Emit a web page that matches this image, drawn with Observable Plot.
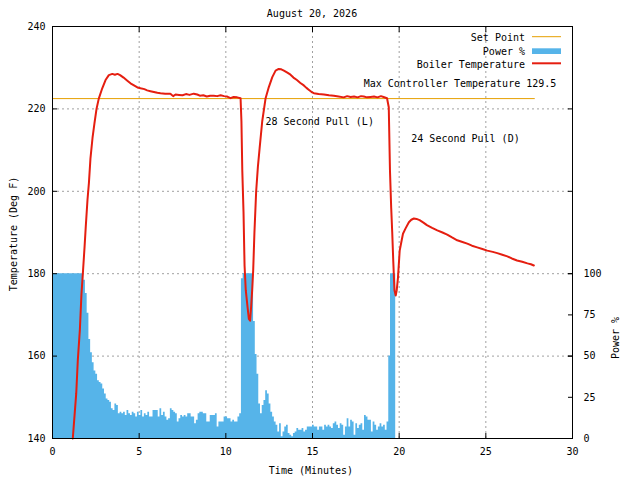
<!DOCTYPE html>
<html><head><meta charset="utf-8">
<script src="https://cdn.jsdelivr.net/npm/d3@7"></script>
<script src="https://cdn.jsdelivr.net/npm/@observablehq/plot@0.6"></script>
<style>
body{margin:0;background:#fff;font-family:"DejaVu Sans Mono",monospace;font-size:10px;color:#000;}
#title{height:20px;position:relative;width:640px;}
#title span{position:absolute;left:52px;width:520px;top:8px;text-align:center;line-height:12px;}
</style></head><body>
<div id="title"><span>August 20, 2026</span></div>
<div id="chart"></div>
<script>
// Boiler temperature (minutes, deg F)
const tempTime = [1.17,1.27,1.37,1.46,1.58,1.67,1.75,1.85,1.92,2.02,2.10,2.19,2.31,2.42,2.54,2.67,2.87,3.06,3.25,3.45,3.6,3.75,3.9,4.1,4.3,4.5,4.7,4.9,5.08,5.3,5.46,5.65,5.85,6.05,6.23,6.5,6.8,6.96,7.1,7.3,7.5,7.7,7.9,8.15,8.35,8.5,8.7,8.9,9.1,9.3,9.5,9.7,9.9,10.08,10.27,10.45,10.65,10.85,10.9,10.95,11.02,11.08,11.15,11.25,11.33,11.4,11.46,11.52,11.58,11.65,11.75,11.85,11.95,12.1,12.29,12.48,12.68,12.87,13.05,13.2,13.35,13.55,13.73,13.9,14.1,14.3,14.5,14.65,14.8,14.95,15.08,15.35,15.66,15.95,16.23,16.5,16.8,17.0,17.2,17.4,17.6,17.8,17.96,18.15,18.35,18.55,18.75,18.95,19.1,19.3,19.4,19.47,19.54,19.6,19.66,19.73,19.8,19.86,19.93,20.03,20.14,20.22,20.37,20.56,20.7,20.85,21.0,21.18,21.4,21.6,21.9,22.2,22.5,22.77,23.05,23.35,23.65,23.93,24.2,24.5,24.8,25.08,25.4,25.66,25.95,26.24,26.5,26.8,27.1,27.4,27.6,27.77];
const tempValue = [140,145.5,151,159,166.5,175,180,186.5,191.5,198,202,208,213,216.5,220,222.5,225,227,228.2,228.5,228.3,228.5,228.2,227.6,226.9,226.2,225.7,225.2,225.0,224.8,224.5,224.3,224.1,223.9,223.8,223.7,223.7,223.1,223.5,223.4,223.3,223.6,223.4,223.7,223.5,223.2,223.3,223.0,223.2,223.2,223.1,223.3,223.1,223.0,222.6,222.9,222.8,222.6,217,205,195,182,176,172,169,168.6,172,176,181,190,200,206,210.5,217,222.5,225.3,227.7,229.3,229.7,229.6,229.3,228.8,228.3,227.6,227.0,226.3,225.7,225.1,224.6,224.1,223.8,223.6,223.5,223.3,223.2,223.0,222.8,223.1,222.9,223.0,222.8,223.1,223.0,222.8,222.9,223.0,222.8,223.1,222.9,222.6,220.4,205,196,190,183,176,174.7,176,179,185.6,188,189.7,191,192.5,193.1,193.4,193.3,193.0,192.4,191.8,191.1,190.5,190.0,189.5,188.8,188.1,187.7,187.3,186.8,186.4,186.0,185.6,185.3,185.0,184.6,184.2,183.7,183.2,182.9,182.5,182.3,182.0];

// Heater power (minutes, %)
const powerTime = [0,0.1,0.2,0.3,0.4,0.5,0.6,0.7,0.8,0.9,
1,1.1,1.2,1.3,1.4,1.5,1.6,1.7,1.8,1.9,
2,2.1,2.2,2.3,2.4,2.5,2.6,2.7,2.8,2.9,
3,3.1,3.2,3.3,3.4,3.5,3.6,3.7,3.8,3.9,
4,4.1,4.2,4.3,4.4,4.5,4.6,4.7,4.8,4.9,
5,5.1,5.2,5.3,5.4,5.5,5.6,5.7,5.8,5.9,
6,6.1,6.2,6.3,6.4,6.5,6.6,6.7,6.8,6.9,
7,7.1,7.2,7.3,7.4,7.5,7.6,7.7,7.8,7.9,
8,8.1,8.2,8.3,8.4,8.5,8.6,8.7,8.8,8.9,
9,9.1,9.2,9.3,9.4,9.5,9.6,9.7,9.8,9.9,
10,10.1,10.2,10.3,10.4,10.5,10.6,10.7,10.8,10.9,
11,11.1,11.2,11.3,11.4,11.5,11.6,11.7,11.8,11.9,
12,12.1,12.2,12.3,12.4,12.5,12.6,12.7,12.8,12.9,
13,13.1,13.2,13.3,13.4,13.5,13.6,13.7,13.8,13.9,
14,14.1,14.2,14.3,14.4,14.5,14.6,14.7,14.8,14.9,
15,15.1,15.2,15.3,15.4,15.5,15.6,15.7,15.8,15.9,
16,16.1,16.2,16.3,16.4,16.5,16.6,16.7,16.8,16.9,
17,17.1,17.2,17.3,17.4,17.5,17.6,17.7,17.8,17.9,
18,18.1,18.2,18.3,18.4,18.5,18.6,18.7,18.8,18.9,
19,19.1,19.2,19.3,19.4,19.5,19.6,19.7];
const powerPct = [100,100,100,100,100,100,100,100,100,100,
100,100,100,100,100,100,100,100,96,88,
76,60,52,46,41,39,35,34,33,30,
27,24,23,22,18,17,21,20,15,16,
15,16,14,17,15,14,16,15,13,16,
14,17,13,15,14,16,13,13,17,17,
17,13,18,14,16,13,11,12,18,17,
16,15,10,12,14,13,14,13,15,15,
13,13,9,11,15,16,16,15,15,10,
10,14,14,14,15,7,10,10,10,13,
13,12,12,10,11,10,10,13,15,97,
100,100,100,100,100,100,71,51,39,21,
15,20,23,29,27,21,16,13,10,8,
4,9,1,4,7,8,3,2,1,3,
4,6,5,5,6,4,5,7,7,7,
8,7,7,5,7,7,5,8,7,8,
7,6,9,10,8,6,9,8,2,7,
12,7,11,10,2,9,6,8,9,5,
14,13,11,11,4,10,8,5,7,9,
7,8,5,10,50,100,100,100];
const powerStep = 0.1;

// Set point
const setPointTime = [0, 27.8];
const setPointTemp = [222.5, 222.5];

// Annotations
const noteText = ["Max Controller Temperature 129.5", "28 Second Pull (L)", "24 Second Pull (D)"];
const noteTime = [17.95, 12.29, 20.7];
const noteTemp = [226.2, 216.8, 212.7];

// Axes
const xTicks = [0,5,10,15,20,25,30];
const xGrid = [5,10,15,20,25];
const yTicks = [140,160,180,200,220,240];
const yGrid = [160,180,200,220];
const powerTicks = [0,25,50,75,100];
const powerBaseTemp = 140;   // 0 % on the left scale
const powerFullTemp = 180;   // 100 % on the left scale

const pToT = p => powerBaseTemp + p * (powerFullTemp - powerBaseTemp) / 100;
const tToP = t => Math.round((t - powerBaseTemp) * 100 / (powerFullTemp - powerBaseTemp));

const tempRows = tempTime.map((t, i) => ({t, T: tempValue[i]}));
const powerRows = powerTime.map((t, i) => ({t, T: pToT(powerPct[i])}));
powerRows.push({t: powerTime[powerTime.length - 1] + powerStep, T: pToT(powerPct[powerPct.length - 1])});
const setRows = setPointTime.map((t, i) => ({t, T: setPointTemp[i]}));
const notes = noteText.map((label, i) => ({label, t: noteTime[i], T: noteTemp[i]}));

const RED = "#e51e10", BLUE = "#56b4e9", ORANGE = "#e69f00", GRID = "#a0a0a0";
const FONT = '"DejaVu Sans Mono", monospace';

const svg = Plot.plot({
  width: 640, height: 460,
  marginTop: 6, marginBottom: 42, marginLeft: 52, marginRight: 68,
  x: {domain: [0, 30]},
  y: {domain: [140, 240]},
  style: {fontFamily: FONT, fontSize: "10px", background: "white", color: "black", overflow: "visible"},
  marks: [
    Plot.gridX(xGrid, {stroke: GRID, strokeOpacity: 1, strokeDasharray: "2,3"}),
    Plot.gridY(yGrid, {stroke: GRID, strokeOpacity: 1, strokeDasharray: "2,3"}),
    Plot.areaY(powerRows, {x: "t", y1: powerBaseTemp, y2: "T", curve: "step-after", fill: BLUE}),
    Plot.line(setRows, {x: "t", y: "T", stroke: ORANGE, strokeWidth: 1}),
    Plot.line(tempRows, {x: "t", y: "T", stroke: RED, strokeWidth: 2}),
    Plot.text(notes, {x: "t", y: "T", text: "label", textAnchor: "start", fill: "black", fontSize: 10}),
    Plot.frame({stroke: "black"}),
    Plot.axisX({ticks: xTicks, tickSize: 0, tickPadding: 9, label: null}),
    Plot.axisX({anchor: "bottom", ticks: xTicks, text: null, tickSize: 5, dy: -5, label: null}),
    Plot.axisX({anchor: "top", ticks: xTicks, text: null, tickSize: 5, dy: 5, label: null}),
    Plot.axisY({ticks: yTicks, tickSize: 0, tickPadding: 7, label: null}),
    Plot.axisY({anchor: "left", ticks: yTicks, text: null, tickSize: 5, dx: 5, label: null}),
    Plot.axisY({anchor: "right", ticks: yTicks.concat(powerTicks.map(pToT)), text: null, tickSize: 5, dx: -5, label: null}),
    Plot.axisY({anchor: "right", ticks: powerTicks.map(pToT), tickFormat: tToP, tickSize: 0, tickPadding: 11, textAnchor: "start", label: null})
  ]
});
document.getElementById("chart").appendChild(svg);

const s = d3.select(svg);
const g = s.append("g").attr("font-family", FONT).attr("font-size", 10).attr("fill", "black");
// axis titles
g.append("text").attr("transform", "translate(13,214) rotate(-90)").attr("text-anchor", "middle").attr("dy", "0.35em").text("Temperature (Deg F)");
g.append("text").attr("transform", "translate(615,318) rotate(-90)").attr("text-anchor", "middle").attr("dy", "0.35em").text("Power %");
g.append("text").attr("x", 311).attr("y", 450).attr("text-anchor", "middle").attr("dy", "0.35em").text("Time (Minutes)");
// key
const key = [
  {label: "Set Point", y: 17.5},
  {label: "Power %", y: 31},
  {label: "Boiler Temperature", y: 44}
];
key.forEach(k => g.append("text").attr("x", 525).attr("y", k.y).attr("text-anchor", "end").attr("dy", "0.35em").text(k.label));
g.append("line").attr("x1", 532).attr("x2", 561).attr("y1", 16.7).attr("y2", 16.7).attr("stroke", ORANGE).attr("stroke-width", 1);
g.append("rect").attr("x", 532).attr("width", 29).attr("y", 28.3).attr("height", 5.7).attr("fill", BLUE);
g.append("line").attr("x1", 532).attr("x2", 561).attr("y1", 43.3).attr("y2", 43.3).attr("stroke", RED).attr("stroke-width", 2);
</script>
</body></html>
